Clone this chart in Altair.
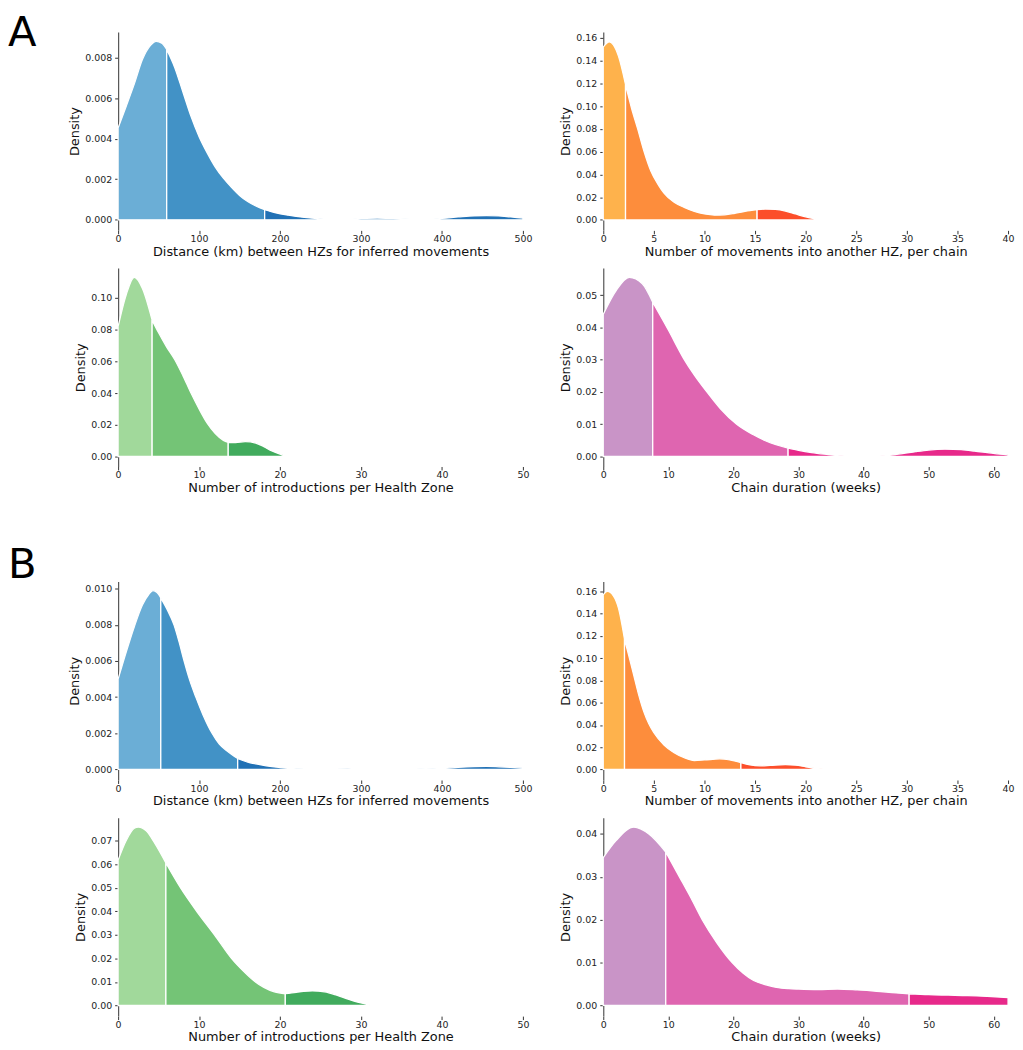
import altair as alt
import pandas as pd

# ---------------- data ----------------
# Panel A
A_DIST_X = [0, 10, 20, 30, 40, 47, 54, 60, 70, 80, 90, 100, 110, 120, 130, 140, 150, 160, 170, 181, 195, 210, 230,
            250, 265, 280, 300, 320, 340, 360, 380, 400, 420, 440, 455, 470, 485, 500]
A_DIST_Y = [0.00453, 0.0056, 0.0067, 0.0079, 0.0086, 0.0088, 0.0087, 0.0084, 0.0075, 0.0063, 0.0051, 0.0041, 0.0033,
            0.0026, 0.00205, 0.0016, 0.0012, 0.0009, 0.00068, 0.0005, 0.00034, 0.00023, 0.00012, 0.00005, 0.00002,
            0.00003, 0.00007, 0.00009, 0.00007, 0.00004, 0.00003, 0.00007, 0.00014, 0.0002, 0.00021, 0.00019,
            0.00014, 0.00009]
A_DIST_SPLIT = [60, 181]

A_MOVE_X = [0, 0.6, 1.0, 1.5, 2.2, 2.8, 3.4, 4.0, 4.7, 5.5, 6.0, 7.0, 8.0, 9.0, 10.0, 11.0, 12.0, 13.0, 14.0, 15.2,
            16.0, 17.0, 18.0, 19.0, 20.0, 21.0]
A_MOVE_Y = [0.152, 0.1565, 0.154, 0.144, 0.119, 0.098, 0.080, 0.061, 0.043, 0.030, 0.0235, 0.0155, 0.011, 0.0075,
            0.0052, 0.0042, 0.0045, 0.0058, 0.0075, 0.009, 0.0095, 0.0092, 0.0078, 0.0052, 0.0027, 0.0008]
A_MOVE_SPLIT = [2.2, 15.2]

A_INTRO_X = [0, 1, 2, 3, 4.2, 5, 6, 7, 8, 9, 10, 11, 12, 13, 13.6, 14.5, 15.7, 17, 18, 19, 20, 20.6]
A_INTRO_Y = [0.082, 0.102, 0.113, 0.106, 0.086, 0.078, 0.069, 0.061, 0.051, 0.040, 0.030, 0.021, 0.0145, 0.0102,
             0.0089, 0.0088, 0.0094, 0.0085, 0.0062, 0.0035, 0.0015, 0.0005]
A_INTRO_SPLIT = [4.2, 13.6]

A_DUR_X = [0, 2, 4, 6, 7.6, 10, 12.4, 14, 16, 18, 20.5, 23, 25, 28.4, 30, 32, 34, 36, 38, 40, 42, 44, 46, 48, 50,
           52.5, 55, 57, 59, 61, 62.2]
A_DUR_Y = [0.0441, 0.0515, 0.0555, 0.0535, 0.0478, 0.0392, 0.0302, 0.0252, 0.0198, 0.0148, 0.0100, 0.0068, 0.0048,
           0.0026, 0.0019, 0.0012, 0.0007, 0.0003, 0.0001, 0.00005, 0.0001, 0.0004, 0.0009, 0.0015, 0.002, 0.00225,
           0.0021, 0.0017, 0.0012, 0.0007, 0.0005]
A_DUR_SPLIT = [7.6, 28.4]

# Panel B
B_DIST_X = [0, 10, 20, 30, 38, 43, 48, 52.7, 60, 69, 75, 81.5, 88, 96, 105, 116, 125, 135, 147.7, 160, 175, 190, 205,
            220, 240, 260, 280, 300, 330, 360, 380, 400, 420, 440, 455, 470, 485, 500]
B_DIST_Y = [0.0050, 0.0065, 0.0079, 0.0091, 0.0097, 0.0099, 0.0098, 0.0095, 0.0089, 0.0080, 0.0071, 0.0060, 0.0050,
            0.0040, 0.0030, 0.0020, 0.0014, 0.0010, 0.0006, 0.0004, 0.00026, 0.00015, 0.00008, 0.00003, 0.00001,
            0.00001, 0.00003, 0.00006, 0.00007, 0.00005, 0.00002, 0.00005, 0.00011, 0.00015, 0.00016, 0.00014,
            0.00011, 0.00007]
B_DIST_SPLIT = [52.7, 147.7]

B_MOVE_X = [0, 0.4, 1.0, 1.5, 2.1, 2.5, 3.0, 3.5, 4.0, 4.5, 5.0, 6.0, 7.0, 8.0, 9.0, 10.0, 11.5, 12.5, 13.6, 14.5,
            15.5, 16.5, 18.0, 19.0, 20.0, 21.0, 21.7]
B_MOVE_Y = [0.157, 0.160, 0.156, 0.145, 0.117, 0.103, 0.085, 0.067, 0.052, 0.041, 0.033, 0.022, 0.015, 0.0105, 0.008,
            0.0085, 0.0095, 0.0085, 0.0062, 0.0040, 0.0032, 0.0036, 0.0043, 0.0038, 0.0024, 0.001, 0.0004]
B_MOVE_SPLIT = [2.1, 13.6]

B_INTRO_X = [0, 1, 2, 2.5, 3.5, 4.5, 5.9, 7.7, 9.7, 11.9, 14.0, 15.5, 16.7, 18.0, 19.3, 20.65, 22.0, 24.0, 25.5, 27.0,
             28.5, 30.0, 31.0]
B_INTRO_Y = [0.0617, 0.070, 0.0752, 0.0757, 0.074, 0.069, 0.0605, 0.050, 0.040, 0.030, 0.020, 0.0145, 0.0107, 0.0077,
             0.0058, 0.0050, 0.0056, 0.0062, 0.0058, 0.0044, 0.0026, 0.0011, 0.0004]
B_INTRO_SPLIT = [5.9, 20.65]

B_DUR_X = [0, 2, 4.7, 7, 9.6, 11.7, 13.5, 15.2, 17.5, 19.8, 21.5, 23.1, 25, 26.6, 28.5, 30, 33, 36, 39, 42, 45, 47,
           50, 53, 56, 59, 62.2]
B_DUR_Y = [0.0345, 0.0385, 0.0416, 0.040, 0.0358, 0.030, 0.025, 0.020, 0.0145, 0.010, 0.0075, 0.0058, 0.0048, 0.0042,
           0.0039, 0.0038, 0.0037, 0.0038, 0.0036, 0.0033, 0.0029, 0.0027, 0.0025, 0.0024, 0.0023, 0.0021, 0.0018]
B_DUR_SPLIT = [9.6, 47]

# axis texts and ticks
X_TITLES = {
    "dist": "Distance (km) between HZs for inferred movements",
    "move": "Number of movements into another HZ, per chain",
    "intro": "Number of introductions per Health Zone",
    "dur": "Chain duration (weeks)",
}
X_TICKS = {
    "dist": [0, 100, 200, 300, 400, 500],
    "move": [0, 5, 10, 15, 20, 25, 30, 35, 40],
    "intro": [0, 10, 20, 30, 40, 50],
    "dur": [0, 10, 20, 30, 40, 50, 60],
}
X_DOMAIN = {"dist": [0, 500], "move": [0, 40], "intro": [0, 50], "dur": [0, 62.2]}

Y_TICKS_A = {
    "dist": [0.0, 0.002, 0.004, 0.006, 0.008],
    "move": [0.0, 0.02, 0.04, 0.06, 0.08, 0.10, 0.12, 0.14, 0.16],
    "intro": [0.0, 0.02, 0.04, 0.06, 0.08, 0.10],
    "dur": [0.0, 0.01, 0.02, 0.03, 0.04, 0.05],
}
Y_TICKS_B = {
    "dist": [0.0, 0.002, 0.004, 0.006, 0.008, 0.010],
    "move": [0.0, 0.02, 0.04, 0.06, 0.08, 0.10, 0.12, 0.14, 0.16],
    "intro": [0.0, 0.01, 0.02, 0.03, 0.04, 0.05, 0.06, 0.07],
    "dur": [0.0, 0.01, 0.02, 0.03, 0.04],
}
Y_DOMAIN_A = {"dist": [-0.00052, 0.00926], "move": [-0.0092, 0.1653],
              "intro": [-0.0063, 0.1188], "dur": [-0.0031, 0.0584]}
Y_DOMAIN_B = {"dist": [-0.00059, 0.0104], "move": [-0.0095, 0.1689],
              "intro": [-0.0045, 0.0797], "dur": [-0.0025, 0.0438]}
Y_FORMAT = {"dist": ".3f", "move": ".2f", "intro": ".2f", "dur": ".2f"}

PALETTES = {
    "dist": ["#6baed6", "#4292c6", "#2171b5"],
    "move": ["#feb24c", "#fd8d3c", "#fc4e2a"],
    "intro": ["#a1d99b", "#74c476", "#41ab5d"],
    "dur": ["#c994c7", "#df65b0", "#e7298a"],
}
SEGMENTS = ["lower", "middle", "upper"]
KINDS = ["dist", "move", "intro", "dur"]
ALL_SEGS = [f"{k}-{s}" for k in KINDS for s in SEGMENTS]
ALL_COLORS = [c for k in KINDS for c in PALETTES[k]]

FONT = "DejaVu Sans"
W, H = 408, 200


def segment_frame(kind, xs, ys, splits):
    edges = [xs[0]] + list(splits) + [xs[-1]]
    rows = []
    for k, name in enumerate(SEGMENTS):
        lo, hi = edges[k], edges[k + 1]
        for x, y in zip(xs, ys):
            if lo <= x <= hi:
                rows.append({"x": x, "y": y, "seg": f"{kind}-{name}"})
    return pd.DataFrame(rows)


def panel(kind, xs, ys, splits, ydom, yticks, letter=None, letter_y=None):
    df = segment_frame(kind, xs, ys, splits)
    area = alt.Chart(df).mark_area(
        stroke="white", strokeWidth=1.3, interpolate="monotone", opacity=1
    ).encode(
        x=alt.X("x:Q",
                scale=alt.Scale(domain=X_DOMAIN[kind], nice=False, zero=False),
                axis=alt.Axis(values=X_TICKS[kind], title=X_TITLES[kind], domain=False,
                              labelFlush=False, grid=False, labelPadding=0)),
        y=alt.Y("y:Q", stack=None,
                scale=alt.Scale(domain=ydom, nice=False, zero=False),
                axis=alt.Axis(values=yticks, format=Y_FORMAT[kind], title="Density", grid=False,
                              labelFlush=False)),
        color=alt.Color("seg:N", scale=alt.Scale(domain=ALL_SEGS, range=ALL_COLORS), legend=None),
    )
    layers = [area]
    if letter is not None:
        lab = alt.Chart(pd.DataFrame({"t": [letter]})).mark_text(
            align="left", baseline="top", fontSize=42, font=FONT, color="black"
        ).encode(text="t:N", x=alt.value(-111), y=alt.value(letter_y))
        layers.append(lab)
    return alt.layer(*layers).properties(width=W, height=H)


def spacer():
    return alt.Chart(pd.DataFrame({"v": [0]})).mark_point(opacity=0).encode(
        x=alt.X("v:Q", axis=None), y=alt.Y("v:Q", axis=None)
    ).properties(width=W, height=40)


charts = [
    panel("dist", A_DIST_X, A_DIST_Y, A_DIST_SPLIT, Y_DOMAIN_A["dist"], Y_TICKS_A["dist"], "A", -19),
    panel("move", A_MOVE_X, A_MOVE_Y, A_MOVE_SPLIT, Y_DOMAIN_A["move"], Y_TICKS_A["move"]),
    panel("intro", A_INTRO_X, A_INTRO_Y, A_INTRO_SPLIT, Y_DOMAIN_A["intro"], Y_TICKS_A["intro"]),
    panel("dur", A_DUR_X, A_DUR_Y, A_DUR_SPLIT, Y_DOMAIN_A["dur"], Y_TICKS_A["dur"]),
    spacer(),
    spacer(),
    panel("dist", B_DIST_X, B_DIST_Y, B_DIST_SPLIT, Y_DOMAIN_B["dist"], Y_TICKS_B["dist"], "B", -37),
    panel("move", B_MOVE_X, B_MOVE_Y, B_MOVE_SPLIT, Y_DOMAIN_B["move"], Y_TICKS_B["move"]),
    panel("intro", B_INTRO_X, B_INTRO_Y, B_INTRO_SPLIT, Y_DOMAIN_B["intro"], Y_TICKS_B["intro"]),
    panel("dur", B_DUR_X, B_DUR_Y, B_DUR_SPLIT, Y_DOMAIN_B["dur"], Y_TICKS_B["dur"]),
]

chart = alt.concat(
    *charts, columns=2, spacing={"row": 38, "column": 81}, bounds="flush", align="each"
).properties(
    padding=0
).configure_view(
    stroke=None
).configure_axis(
    labelFont=FONT, labelFontSize=9.5, labelColor="#222222",
    titleFont=FONT, titleFontSize=13, titleFontWeight="normal", titleColor="#111111",
    tickColor="#333333", tickSize=3.5, tickWidth=1,
    domainColor="#555555", domainWidth=1.2,
    labelPadding=1, titlePadding=2, grid=False,
).configure_axisY(
    labelPadding=3, titlePadding=3
)

chart.save("out.html", embed_options={"renderer": "svg", "actions": False})
